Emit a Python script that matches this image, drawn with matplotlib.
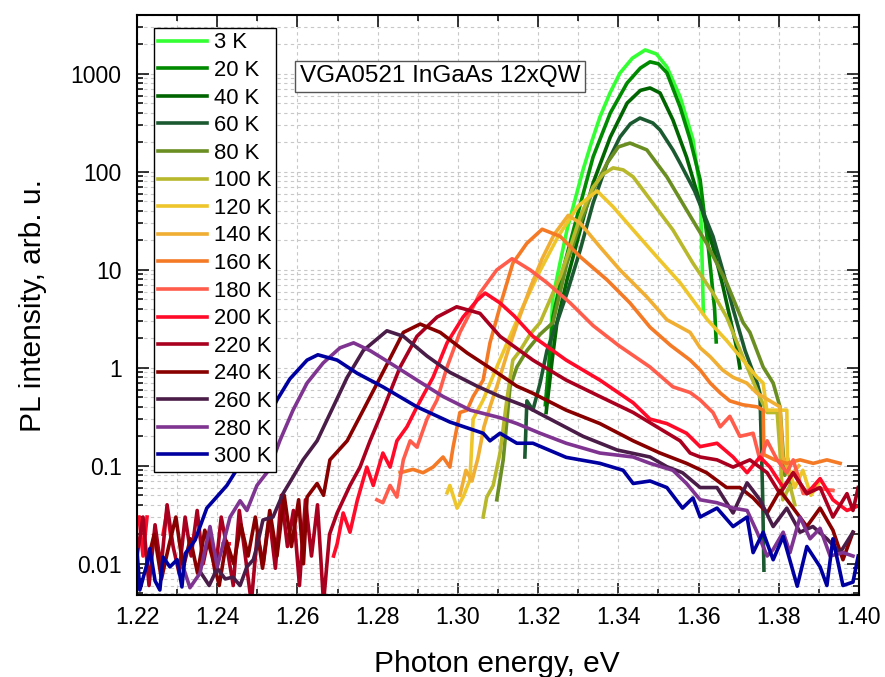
import numpy as np
import matplotlib
matplotlib.use("Agg")
import matplotlib.pyplot as plt
from matplotlib.ticker import MultipleLocator, LogLocator, NullFormatter, FuncFormatter, FormatStrFormatter

plt.rcParams['font.family'] = ['Liberation Sans', 'DejaVu Sans']

nan = np.nan

## PL spectra: photon energy (eV) and intensity (arb. u.)
e_3 = [1.3222, 1.3237, 1.3255, 1.3272, 1.3292, 1.3312, 1.3333, 1.3354, 1.3380, 1.3404, 1.3435, 1.3467,
       1.3495, 1.3521, 1.3554, 1.3586, 1.3604, 1.3609, 1.3612]
i_3 = [0.47, 5.3, 12, 25.6, 52, 105, 200, 363, 650, 1020, 1450, 1760,
       1600, 1180, 585, 214, 66, 11.7, 3.6]

e_20 = [1.3218, 1.3237, 1.3262, 1.3297, 1.3337, 1.3380, 1.3422, 1.3455, 1.3479, 1.3500, 1.3521, 1.3554,
        1.3579, 1.3604, 1.3625, 1.3640, 1.3644]
i_20 = [0.42, 3.3, 10, 35, 142, 400, 810, 1150, 1330, 1270, 1030, 460,
        214, 83, 16, 4.0, 1.84]

e_40 = [1.3220, 1.3235, 1.3247, 1.3272, 1.3305, 1.3337, 1.3380, 1.3422, 1.3455, 1.3479, 1.3504, 1.3536,
        1.3570, 1.3604, 1.3638, 1.3660, 1.3678, 1.3695, 1.3703]
i_40 = [0.35, 1.2, 2.9, 7.9, 25.6, 77, 227, 505, 680, 720, 640, 340,
        142, 48, 16, 7, 3.3, 1.6, 1.0]

e_60 = [1.3167, 1.3172, 1.3187, 1.3205, 1.3222, 1.3247, 1.3272, 1.3305, 1.3337, 1.3372, 1.3404, 1.3430,
        1.3454, 1.3486, 1.3504, 1.3536, 1.3554, 1.3590, 1.3636, 1.3660, 1.3686, 1.3716, 1.3746, 1.3753,
        1.3757, 1.3760, 1.3763]
i_60 = [0.123, 0.46, 0.37, 0.7, 1.5, 2.9, 5.8, 16, 48, 123, 227, 310,
        355, 316, 268, 168, 123, 64, 22, 10, 4.0, 1.5, 0.7, 0.55,
        0.14, 0.045, 0.0086]

e_80 = [1.3097, 1.3113, 1.3130, 1.3147, 1.3172, 1.3205, 1.3237, 1.3272, 1.3305, 1.3337, 1.3372, 1.3400,
        1.3429, 1.3471, 1.3521, 1.3570, 1.3620, 1.3670, 1.3711, 1.3728, 1.3761, 1.3786, 1.3803, 1.3808,
        1.3815, 1.3822, 1.3830]
i_80 = [0.045, 0.115, 0.64, 1.02, 1.5, 2.2, 2.9, 11.7, 30, 65, 123, 180,
        197, 168, 89, 41, 18.7, 7.4, 2.9, 2.3, 1.02, 0.7, 0.4, 0.2,
        0.08, 0.12, 0.06]

e_100 = [1.3063, 1.3072, 1.3088, 1.3105, 1.3122, 1.3137, 1.3155, 1.3180, 1.3205, 1.3230, 1.3255, 1.3280,
         1.3305, 1.3337, 1.3362, 1.3387, 1.3412, 1.3437, 1.3486, 1.3536, 1.3586, 1.3636, 1.3670, 1.3721,
         1.3753, 1.3771, 1.3796, 1.3803, 1.3810, 1.3828, 1.3840]
i_100 = [0.03, 0.048, 0.063, 0.135, 0.47, 1.2, 1.5, 2.2, 2.9, 5, 8.5, 17,
         35, 70, 95, 110, 105, 89, 48, 25.6, 11.7, 5.8, 3.3, 1.02,
         0.5, 0.35, 0.35, 0.14, 0.045, 0.063, 0.04]

e_120 = [1.2973, 1.2980, 1.2998, 1.3013, 1.3030, 1.3038, 1.3063, 1.3097, 1.3130, 1.3162, 1.3200, 1.3250,
         1.3300, 1.3347, 1.3387, 1.3437, 1.3496, 1.3554, 1.3604, 1.3622, 1.3670, 1.3711, 1.3746, 1.3761,
         1.3770, 1.3803, 1.3820, 1.3822, 1.3840, 1.3860, 1.3880, 1.3903]
i_120 = [0.053, 0.063, 0.037, 0.048, 0.072, 0.3, 0.47, 1.02, 2.1, 4.2, 9, 22,
         45, 64, 44, 25.6, 13.6, 7.4, 3.9, 3.1, 1.9, 1.2, 0.8, 0.7,
         0.37, 0.37, 0.37, 0.097, 0.06, 0.09, 0.05, 0.07]

e_140 = [1.3005, 1.3020, 1.3035, 1.3050, 1.3065, 1.3080, 1.3100, 1.3125, 1.3150, 1.3180, 1.3210, 1.3240,
         1.3275, 1.3305, 1.3354, 1.3404, 1.3471, 1.3521, 1.3579, 1.3604, 1.3629, 1.3660, 1.3686, 1.3720,
         1.3746, 1.3778, 1.3803, 1.3810, 1.3830, 1.3850]
i_140 = [0.05, 0.09, 0.07, 0.12, 0.25, 0.4, 0.7, 1.5, 3, 6.5, 13, 23,
         36, 30, 17.2, 10, 5.3, 3.1, 2.3, 1.6, 1.3, 0.95, 0.8, 0.7,
         0.55, 0.46, 0.4, 0.123, 0.08, 0.1]

e_160 = [1.2856, 1.2888, 1.2913, 1.2938, 1.2963, 1.2980, 1.2988, 1.3005, 1.3023, 1.3038, 1.3063, 1.3080,
         1.3110, 1.3137, 1.3172, 1.3210, 1.3255, 1.3305, 1.3372, 1.3429, 1.3479, 1.3530, 1.3579, 1.3604,
         1.3629, 1.3655, 1.3678, 1.3710, 1.3746, 1.3761, 1.3763, 1.3790, 1.3820, 1.3853, 1.3886, 1.3920,
         1.3953]
i_160 = [0.085, 0.092, 0.085, 0.097, 0.123, 0.097, 0.155, 0.35, 0.37, 0.51, 0.75, 1.8,
         5, 11.7, 18.7, 26, 22, 13.6, 7.9, 4.6, 2.6, 1.7, 1.2, 0.95,
         0.7, 0.55, 0.46, 0.42, 0.4, 0.37, 0.13, 0.115, 0.106, 0.115, 0.106, 0.115,
         0.106]

e_180 = [1.2798, 1.2813, 1.2831, 1.2848, 1.2864, 1.2881, 1.2898, 1.2923, 1.2948, 1.2973, 1.3005, 1.3038,
         1.3055, 1.3097, 1.3135, 1.3180, 1.3222, 1.3280, 1.3337, 1.3400, 1.3479, 1.3536, 1.3579, 1.3604,
         1.3636, 1.3654, 1.3678, 1.3703, 1.3736, 1.3753, 1.3771, 1.3796, 1.3820, 1.3836, 1.3861, 1.3886,
         1.3935]
i_180 = [0.045, 0.042, 0.063, 0.048, 0.115, 0.18, 0.155, 0.3, 0.47, 1.02, 2.3, 4.2,
         5.8, 10, 13, 10, 7.4, 4.6, 2.7, 1.7, 1.02, 0.64, 0.56, 0.47,
         0.35, 0.25, 0.32, 0.2, 0.215, 0.115, 0.18, 0.115, 0.085, 0.115, 0.052, 0.06,
         0.056]

e_200 = [1.2205, 1.2215, 1.2225, 1.2245, 1.2265, 1.2275, 1.2285, 1.2350, 1.2415, 1.2430,
         1.2550, 1.2690, 1.2699, 1.2714, 1.2731, 1.2749, 1.2773, 1.2789, 1.2813, 1.2831,
         1.2848, 1.2873, 1.2898, 1.2938, 1.2973, 1.3013, 1.3048, 1.3068, 1.3105, 1.3140,
         1.3187, 1.3270, 1.3354, 1.3437, 1.3479, 1.3521, 1.3570, 1.3604, 1.3646, 1.3686,
         1.3721, 1.3753, 1.3778, 1.3811, 1.3836, 1.3870, 1.3903, 1.3935, 1.3970, 1.3998]
i_200 = [0.03, 0.012, 0.03, nan, 0.02, 0.035, 0.018, nan, 0.016, 0.016,
         nan, 0.012, 0.016, 0.033, 0.021, 0.044, 0.097, 0.063, 0.135, 0.097,
         0.18, 0.25, 0.4, 0.8, 1.8, 3.3, 4.9, 5.8, 4.6, 3.4,
         2.1, 1.2, 0.75, 0.44, 0.3, 0.27, 0.215, 0.157, 0.17, 0.123,
         0.085, 0.123, 0.097, 0.06, 0.085, 0.052, 0.074, 0.045, 0.035, 0.039]

e_220 = [1.2200, 1.2215, 1.2230, 1.2245, 1.2260, 1.2275, 1.2290, 1.2305, 1.2320, 1.2335, 1.2350,
         1.2365, 1.2380, 1.2395, 1.2410, 1.2425, 1.2440, 1.2455, 1.2470, 1.2485, 1.2500, 1.2515,
         1.2530, 1.2545, 1.2560, 1.2575, 1.2590, 1.2605, 1.2620, 1.2635, 1.2650, 1.2665, 1.2680,
         1.2699, 1.2731, 1.2756, 1.2781, 1.2813, 1.2856, 1.2898, 1.2948, 1.2997, 1.3055, 1.3105,
         1.3187, 1.3270, 1.3354, 1.3437, 1.3496, 1.3554, 1.3579, 1.3604, 1.3646, 1.3686, 1.3728,
         1.3771, 1.3803, 1.3836, 1.3870, 1.3903, 1.3935, 1.3970, 1.3985, 1.3998]
i_220 = [0.012, 0.03, 0.006, 0.025, 0.009, 0.04, 0.015, 0.008, 0.03, 0.012, 0.035,
         0.01, 0.02, 0.008, 0.03, 0.014, 0.006, 0.035, 0.012, 0.004, 0.02, 0.01,
         0.03, 0.009, 0.05, 0.015, 0.035, 0.006, 0.045, 0.012, 0.04, 0.004, 0.02,
         0.033, 0.063, 0.097, 0.18, 0.37, 1.02, 2.1, 3.3, 4.2, 3.6, 2.1,
         1.2, 0.75, 0.51, 0.35, 0.25, 0.18, 0.135, 0.123, 0.115, 0.097, 0.115,
         0.085, 0.052, 0.085, 0.052, 0.06, 0.03, 0.052, 0.035, 0.06]

e_240 = [1.2225, 1.2243, 1.2261, 1.2279, 1.2297, 1.2315, 1.2333, 1.2351, 1.2369, 1.2387, 1.2405,
         1.2423, 1.2441, 1.2459, 1.2477, 1.2495, 1.2513, 1.2531, 1.2549, 1.2567, 1.2585, 1.2603,
         1.2615, 1.2624, 1.2649, 1.2665, 1.2681, 1.2724, 1.2764, 1.2813, 1.2864, 1.2906, 1.2956,
         1.3023, 1.3088, 1.3147, 1.3187, 1.3270, 1.3354, 1.3437, 1.3504, 1.3570, 1.3620, 1.3670,
         1.3703, 1.3736, 1.3771, 1.3803, 1.3836, 1.3870, 1.3903, 1.3935, 1.3960, 1.3985]
i_240 = [0.01, 0.02, 0.007, 0.015, 0.03, 0.009, 0.018, 0.008, 0.022, 0.012, 0.006,
         0.017, 0.01, 0.025, 0.012, 0.03, 0.009, 0.035, 0.012, 0.05, 0.015, 0.045,
         0.01, 0.048, 0.066, 0.05, 0.115, 0.18, 0.37, 0.9, 2.3, 2.8, 2.3,
         1.42, 0.95, 0.65, 0.55, 0.37, 0.27, 0.18, 0.135, 0.106, 0.085, 0.06,
         0.06, 0.047, 0.033, 0.056, 0.037, 0.024, 0.037, 0.022, 0.011, 0.021]

e_260 = [1.2360, 1.2380, 1.2400, 1.2420, 1.2439, 1.2457, 1.2474, 1.2490, 1.2499, 1.2514,
         1.2539, 1.2564, 1.2589, 1.2614, 1.2649, 1.2681, 1.2724, 1.2764, 1.2823, 1.2864,
         1.2923, 1.2980, 1.3048, 1.3105, 1.3172, 1.3230, 1.3312, 1.3397, 1.3479, 1.3521,
         1.3560, 1.3604, 1.3646, 1.3686, 1.3721, 1.3753, 1.3786, 1.3820, 1.3853, 1.3885,
         1.3920, 1.3953, 1.3985]
i_260 = [0.008, 0.006, 0.009, 0.007, 0.0073, 0.006, 0.0093, 0.011, 0.015, 0.028,
         0.03, 0.052, 0.077, 0.115, 0.18, 0.34, 0.8, 1.5, 2.39, 2.1,
         1.32, 0.9, 0.65, 0.51, 0.4, 0.3, 0.2, 0.145, 0.123, 0.098,
         0.085, 0.06, 0.06, 0.033, 0.067, 0.045, 0.024, 0.037, 0.021, 0.024,
         0.018, 0.013, 0.021]

e_280 = [1.2315, 1.2332, 1.2357, 1.2382, 1.2400, 1.2415, 1.2432, 1.2457, 1.2474, 1.2499,
         1.2530, 1.2556, 1.2589, 1.2624, 1.2664, 1.2706, 1.2740, 1.2781, 1.2831, 1.2898,
         1.2963, 1.3031, 1.3105, 1.3147, 1.3205, 1.3270, 1.3354, 1.3437, 1.3479, 1.3536,
         1.3570, 1.3604, 1.3646, 1.3686, 1.3721, 1.3746, 1.3771, 1.3786, 1.3811, 1.3828,
         1.3853, 1.3878, 1.3903, 1.3928, 1.3960, 1.3985]
i_280 = [0.0093, 0.0057, 0.008, 0.024, 0.0093, 0.016, 0.03, 0.044, 0.035, 0.063,
         0.092, 0.18, 0.37, 0.7, 1.12, 1.6, 1.8, 1.5, 1.12, 0.75,
         0.51, 0.37, 0.31, 0.27, 0.215, 0.17, 0.135, 0.123, 0.106, 0.09,
         0.066, 0.045, 0.042, 0.037, 0.035, 0.021, 0.012, 0.014, 0.021, 0.013,
         0.03, 0.018, 0.023, 0.012, 0.013, 0.012]

e_300 = [1.2200, 1.2207, 1.2225, 1.2232, 1.2245, 1.2257, 1.2265, 1.2282, 1.2300, 1.2312,
         1.2320, 1.2332, 1.2345, 1.2374, 1.2424, 1.2464, 1.2507, 1.2549, 1.2581, 1.2624,
         1.2651, 1.2699, 1.2749, 1.2813, 1.2898, 1.2980, 1.3063, 1.3080, 1.3105, 1.3147,
         1.3187, 1.3270, 1.3354, 1.3412, 1.3437, 1.3479, 1.3521, 1.3560, 1.3586, 1.3604,
         1.3646, 1.3686, 1.3721, 1.3736, 1.3761, 1.3786, 1.3811, 1.3846, 1.3870, 1.3903,
         1.3920, 1.3935, 1.3960, 1.3985, 1.3998]
i_300 = [0.0139, 0.0054, 0.01, 0.0143, 0.0067, 0.0054, 0.0117, 0.0093, 0.011, 0.0058,
         0.0127, 0.0147, 0.0175, 0.037, 0.063, 0.115, 0.215, 0.47, 0.77, 1.2,
         1.36, 1.2, 0.88, 0.64, 0.40, 0.28, 0.215, 0.18, 0.215, 0.17,
         0.17, 0.122, 0.106, 0.09, 0.066, 0.07, 0.06, 0.037, 0.047, 0.03,
         0.037, 0.024, 0.03, 0.013, 0.021, 0.011, 0.019, 0.0059, 0.015, 0.0093,
         0.006, 0.018, 0.006, 0.0065, 0.012]

labels = ["3 K", "20 K", "40 K", "60 K", "80 K", "100 K", "120 K", "140 K",
          "160 K", "180 K", "200 K", "220 K", "240 K", "260 K", "280 K", "300 K"]
colors = ["#33ff33", "#008a00", "#006400", "#1b5a30", "#6b8e23", "#b8b82c", "#eec62c", "#f0ae32",
          "#f47a26", "#ff5c4c", "#ff0a28", "#a8001e", "#880000", "#4a1c48", "#7e3490", "#0000a0"]
energies = [e_3, e_20, e_40, e_60, e_80, e_100, e_120, e_140,
            e_160, e_180, e_200, e_220, e_240, e_260, e_280, e_300]
intensities = [i_3, i_20, i_40, i_60, i_80, i_100, i_120, i_140,
               i_160, i_180, i_200, i_220, i_240, i_260, i_280, i_300]

fig = plt.figure(figsize=(8.85, 6.77), dpi=100)
ax = fig.add_axes([137/885, 82/677, 722/885, 580/677])

for e, i, c, lab in zip(energies, intensities, colors, labels):
    ax.plot(e, i, color=c, lw=2.6, label=lab, solid_joinstyle='round')

ax.set_yscale('log')
ax.set_xlim(1.22, 1.40)
ax.set_ylim(0.0048, 4000)

ax.xaxis.set_major_locator(MultipleLocator(0.02))
ax.xaxis.set_minor_locator(MultipleLocator(0.01))
ax.xaxis.set_major_formatter(FormatStrFormatter('%.2f'))
ax.yaxis.set_major_locator(LogLocator(base=10, numticks=20))
ax.yaxis.set_minor_locator(LogLocator(base=10, subs=np.arange(2, 10), numticks=20))
ax.yaxis.set_minor_formatter(NullFormatter())
ax.yaxis.set_major_formatter(FuncFormatter(lambda v, p: f'{v:g}'))

ax.tick_params(which='both', direction='in', top=True, right=True, width=1.1, labelsize=16.5)
ax.tick_params(which='major', length=8.5)
ax.tick_params(which='minor', length=4)
ax.tick_params(axis='x', pad=8)
ax.tick_params(axis='y', pad=11)
ax.grid(which='both', color='#c8c8c8', linestyle=(0, (3, 3)), linewidth=0.8)
ax.set_axisbelow(True)
for s in ax.spines.values():
    s.set_linewidth(1.5)

ax.set_xlabel("Photon energy, eV", fontsize=21.5)
ax.set_ylabel("PL intensity, arb. u.", fontsize=21.5)
ax.xaxis.set_label_coords(0.498, -0.095)
ax.yaxis.set_label_coords(-0.125, 0.5)

leg = ax.legend(loc='upper left', bbox_to_anchor=(17/722, 1 - 13/580), borderaxespad=0,
                fontsize=15.8, fancybox=False, edgecolor='black', framealpha=1,
                labelspacing=0.3, handlelength=2.2, handletextpad=0.32, borderpad=0.2)
leg.get_frame().set_linewidth(1.0)

ax.text(0.42, 0.894, "VGA0521 InGaAs 12xQW", transform=ax.transAxes, fontsize=17.5,
        ha='center', va='center',
        bbox=dict(boxstyle='square,pad=0.2', fc='white', ec='#555555', lw=1))

fig.savefig("out.png", dpi=100)
